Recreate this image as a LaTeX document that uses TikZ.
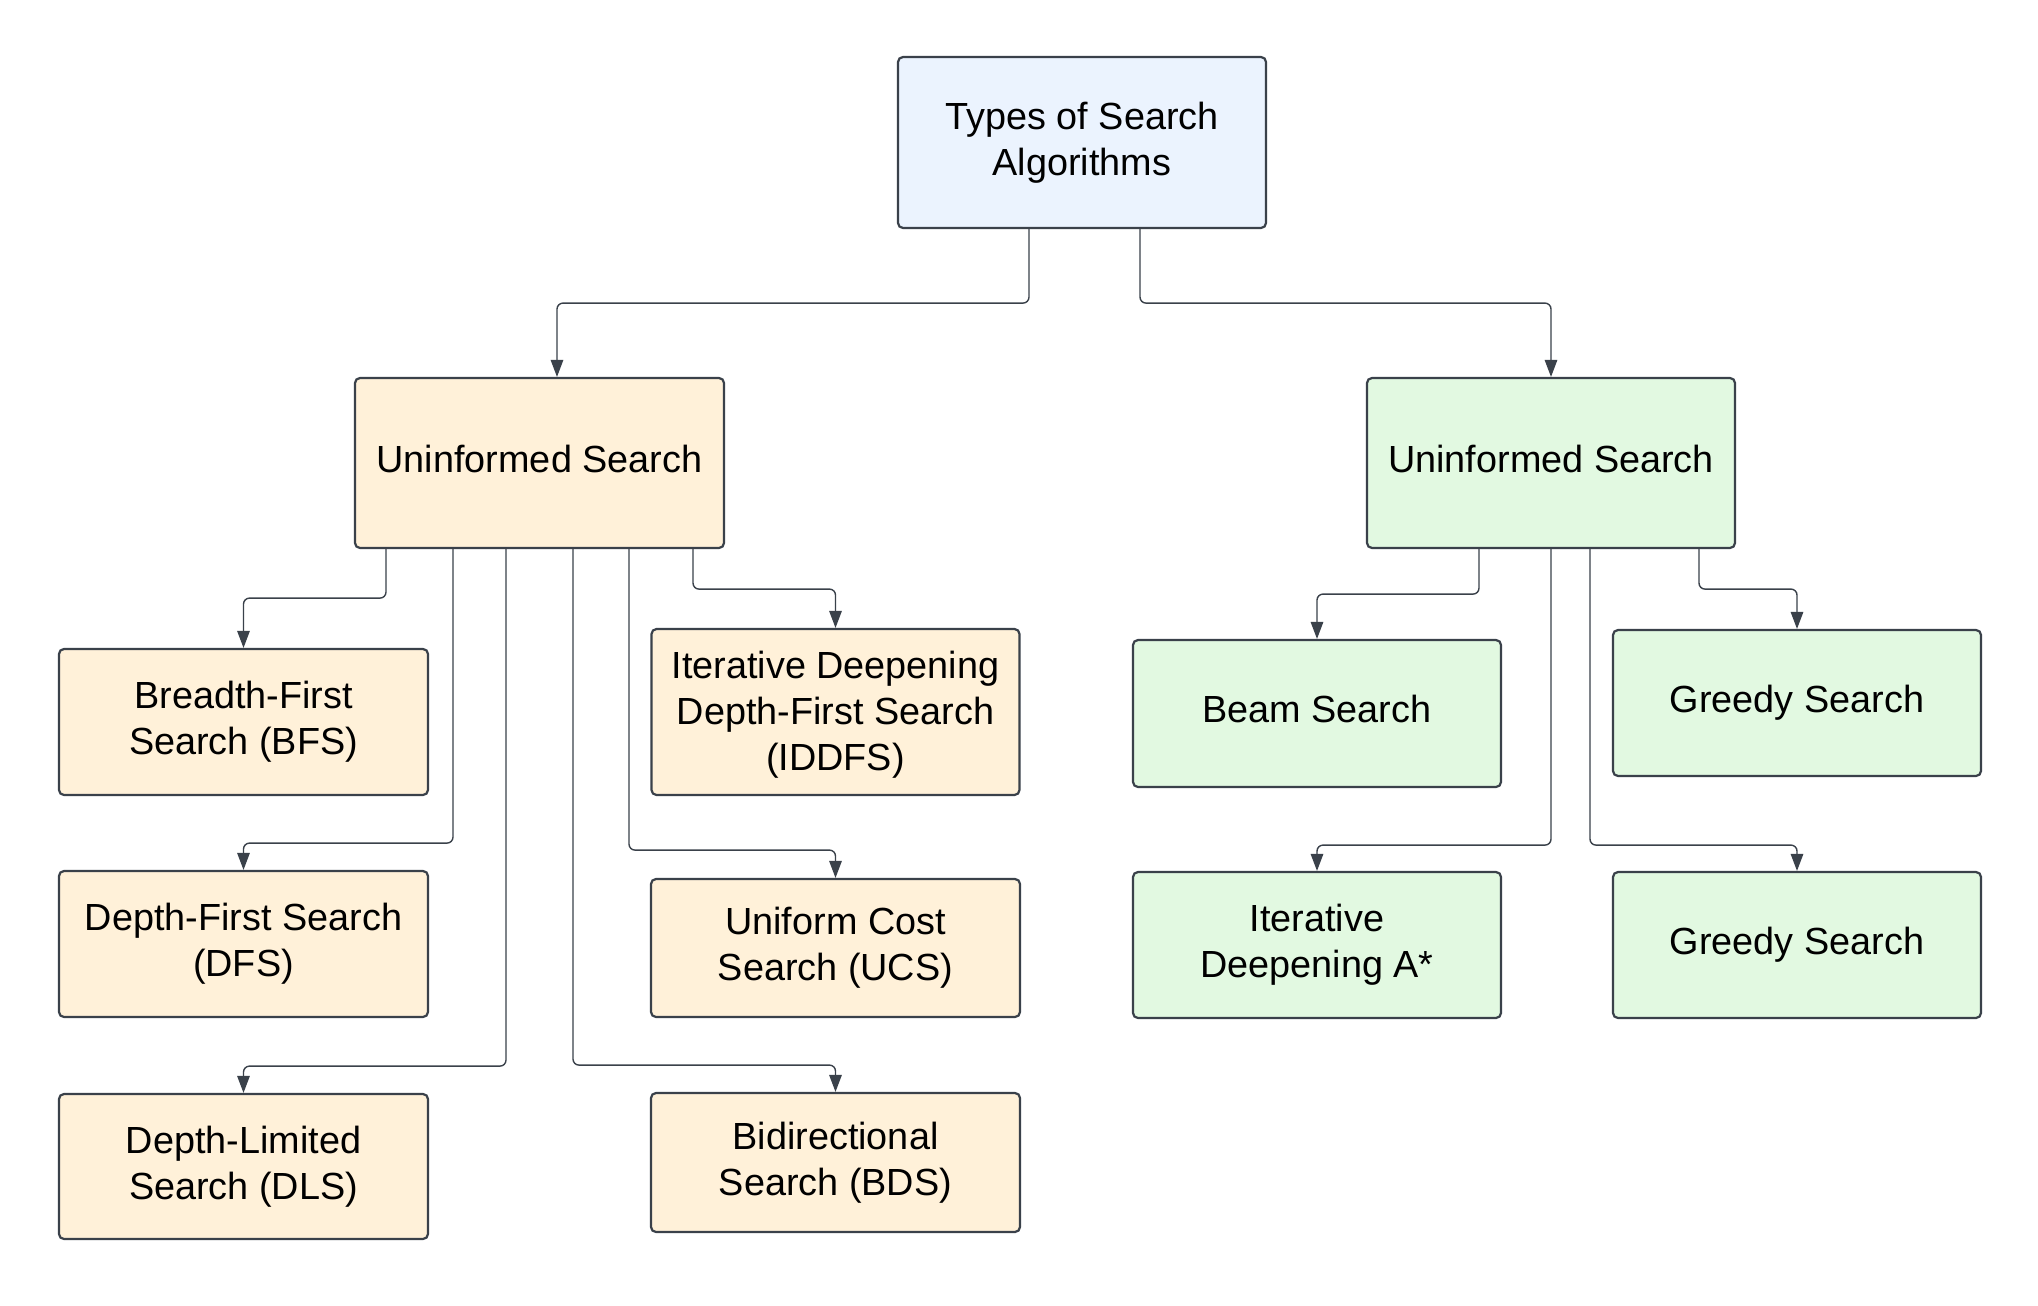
\documentclass[tikz,border=0pt]{standalone}
\usepackage{fontspec}
\setmainfont{Liberation Sans}
\usetikzlibrary{arrows.meta}
\definecolor{strokec}{RGB}{58,65,74}
\definecolor{bluefill}{RGB}{235,243,254}
\definecolor{yelfill}{RGB}{255,241,217}
\definecolor{grnfill}{RGB}{226,249,225}
\tikzset{
  box/.style={rectangle, rounded corners=5pt, draw=strokec, line width=2.2pt,
    align=center, inner sep=0pt, font=\fontsize{37.8}{46}\selectfont, text=black},
  oneline/.style={execute at begin node=\strut, execute at end node=\strut},
  rootbox/.style={box, fill=bluefill, minimum width=368pt, minimum height=171pt},
  ubox/.style={box, fill=yelfill},
  gbox/.style={box, fill=grnfill},
  conn/.style={draw=strokec, line width=1.4pt, rounded corners=6pt,
    -{Triangle[length=17pt,width=12.5pt]}}
}
\begin{document}
\begin{tikzpicture}[x=1pt,y=-1pt]
\useasboundingbox[fill=white] (0,0) rectangle (2038,1306);
% nodes
\node[rootbox] (root) at (1082,142.5) {Types of Search\\Algorithms};
\node[ubox, oneline, minimum width=369pt, minimum height=170pt] (lm) at (539.5,463) {Uninformed Search};
\node[gbox, oneline, minimum width=368pt, minimum height=170pt] (rm) at (1551,463) {Uninformed Search};

\node[ubox, minimum width=369pt, minimum height=146pt] (bfs) at (243.5,722) {Breadth-First\\Search (BFS)};
\node[ubox, minimum width=369pt, minimum height=146pt] (dfs) at (243.5,944) {Depth-First Search\\(DFS)};
\node[ubox, minimum width=369pt, minimum height=145pt] (dls) at (243.5,1166.5) {Depth-Limited\\Search (DLS)};
\node[ubox, minimum width=368pt, minimum height=166pt] (iddfs) at (835.5,712) {\strut Iterative Deepening\\Depth-First Search\\(IDDFS)};
\node[ubox, minimum width=369pt, minimum height=138pt] (ucs) at (835.5,948) {Uniform Cost\\Search (UCS)};
\node[ubox, minimum width=369pt, minimum height=139pt] (bds) at (835.5,1162.5) {Bidirectional\\Search (BDS)};

\node[gbox, oneline, minimum width=368pt, minimum height=147pt] (beam) at (1317,713.5) {Beam Search};
\node[gbox, oneline, minimum width=368pt, minimum height=146pt] (g1) at (1797,703) {Greedy Search};
\node[gbox, minimum width=368pt, minimum height=146pt] (ida) at (1317,945) {Iterative\\Deepening A*};
\node[gbox, oneline, minimum width=368pt, minimum height=146pt] (g2) at (1797,945) {Greedy Search};

% connectors from root
\draw[conn] ([xshift=-53pt]root.south) -- ++(0,74) -| ([xshift=17.5pt]lm.north);
\draw[conn] ([xshift=58pt]root.south) -- ++(0,74) -| (rm.north);

% connectors from left mid
\draw[conn] ([xshift=-153.5pt]lm.south) -- ++(0,49) -| (bfs.north);
\draw[conn] ([xshift=-86.5pt]lm.south) -- ++(0,294) -| (dfs.north);
\draw[conn] ([xshift=-33.5pt]lm.south) -- ++(0,517) -| (dls.north);
\draw[conn] ([xshift=33.5pt]lm.south) -- ++(0,516) -| (bds.north);
\draw[conn] ([xshift=89.5pt]lm.south) -- ++(0,301) -| (ucs.north);
\draw[conn] ([xshift=153.5pt]lm.south) -- ++(0,40) -| (iddfs.north);

% connectors from right mid
\draw[conn] ([xshift=-72pt]rm.south) -- ++(0,45) -| (beam.north);
\draw[conn] ([xshift=148pt]rm.south) -- ++(0,40) -| (g1.north);
\draw[conn] (rm.south) -- ++(0,296) -| (ida.north);
\draw[conn] ([xshift=39pt]rm.south) -- ++(0,296) -| (g2.north);
\end{tikzpicture}
\end{document}
